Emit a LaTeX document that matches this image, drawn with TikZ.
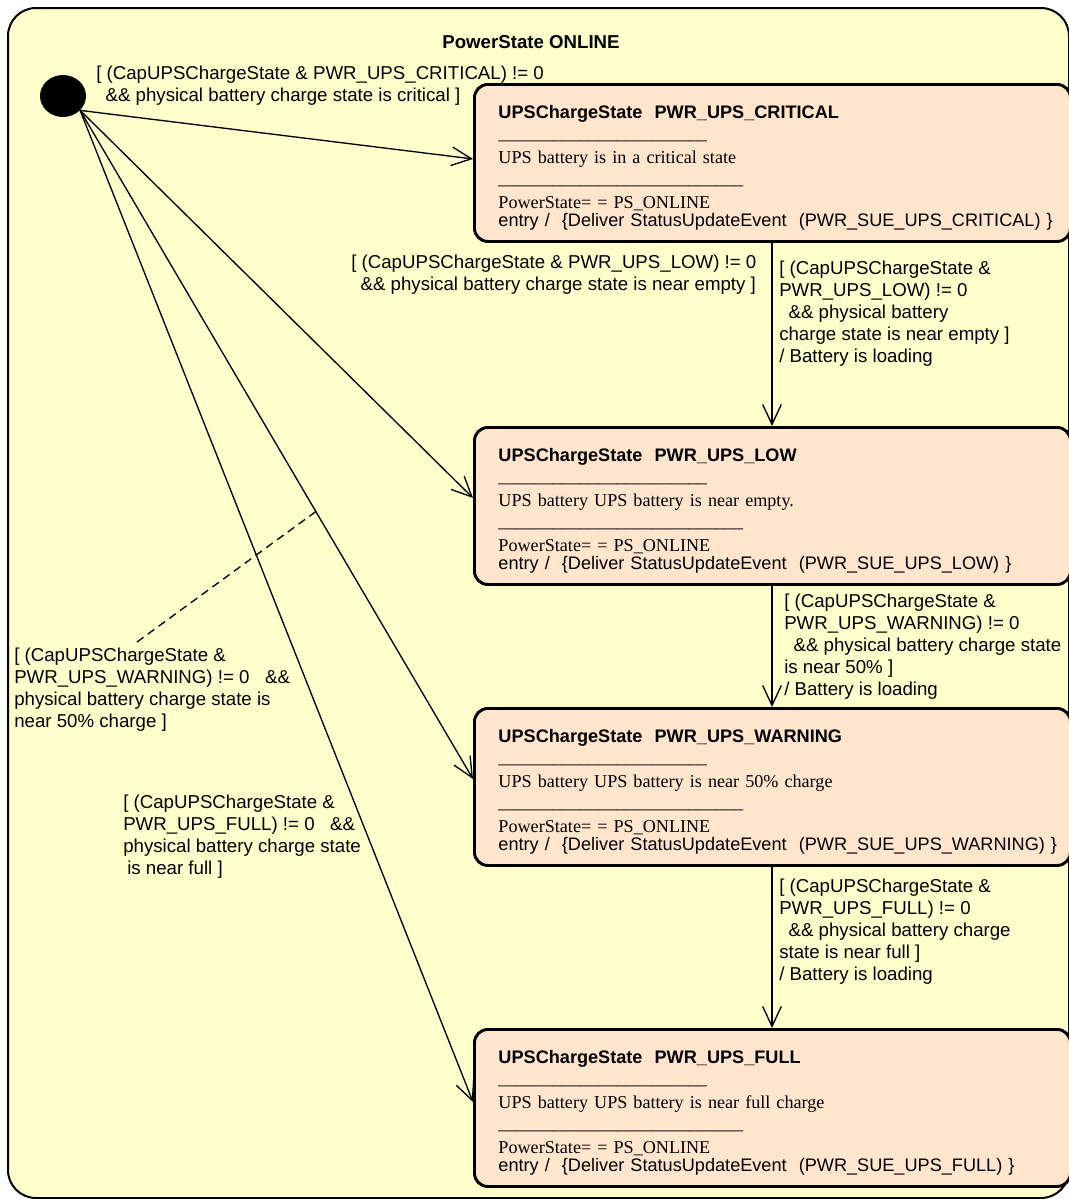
\documentclass[tikz,border=0pt]{standalone}
\usepackage{fontspec}
\setmainfont{Liberation Serif}
\setsansfont{Liberation Sans}
\usetikzlibrary{calc,arrows.meta,shapes.geometric}
\definecolor{onlinefill}{RGB}{255,255,204}
\definecolor{statefill}{RGB}{255,229,204}
\newcommand{\guardfont}{\sffamily\fontsize{14}{16.5}\selectfont}
\newcommand{\statefont}{\sffamily\fontsize{13.6}{16.5}\selectfont}
\tikzstyle{upsstate} = [rectangle, rounded corners=10pt, draw=black, line width=2.2pt, fill=statefill, anchor=north west, text width=411pt, minimum height=117.75pt, inner xsep=18pt, inner ysep=0pt, align=left, font=\statefont]
\tikzstyle{guard} = [anchor=north west, inner sep=0pt, align=left, font=\guardfont]
\tikzstyle{arrow} = [line width=1pt, -{Straight Barb[length=15pt,width=14pt]}]
% body of one charge state: #1 = level, #2 = description
\newcommand{\upsbody}[2]{%
  \rule{0pt}{17.5pt}\textbf{UPSChargeState\ \ PWR\_UPS\_#1}\\[-0.75pt]
  {\rmfamily \_\_\_\_\_\_\_\_\_\_\_\_\_\_\_\_\_\_\_\_\_\_\_}\\[1.5pt]
  {\rmfamily #2}\\[-0.75pt]
  {\rmfamily \_\_\_\_\_\_\_\_\_\_\_\_\_\_\_\_\_\_\_\_\_\_\_\_\_\_\_}\\[1.5pt]
  {\rmfamily PowerState= = PS\_ONLINE}\\[-3pt]
  \mbox{entry / \ \{Deliver StatusUpdateEvent \ (PWR\_SUE\_UPS\_#1) \}}}

\begin{document}
\begin{tikzpicture}[x=0.75pt,y=-0.75pt]
	\useasboundingbox (0,0) rectangle (1068,1199);

	%% outer state PowerState ONLINE
	\draw[line width=1.5pt, rounded corners=21pt, fill=onlinefill] (8,8) rectangle (1069,1198);
	\node[font=\sffamily\bfseries\fontsize{14}{16.5}\selectfont] (online) at (531,42) {PowerState ONLINE};

	%% initial pseudo state
	\node[ellipse, fill=black, minimum width=34.5pt, minimum height=31.5pt, inner sep=0pt] (init) at (63,96) {};

	%% the four charge states
	\node[upsstate] (crit) at (473,83) {\upsbody{CRITICAL}{UPS battery is in a critical state}};
	\node[upsstate] (low) at (473,426) {\upsbody{LOW}{UPS battery UPS battery is near empty.}};
	\node[upsstate] (warn) at (473,707) {\upsbody{WARNING}{UPS battery UPS battery is near 50\% charge}};
	\node[upsstate] (full) at (473,1028) {\upsbody{FULL}{UPS battery UPS battery is near full charge}};

	%% ends of the transitions from the initial state
	\coordinate (critin) at ($(crit.west)+(0,-4)$);
	\coordinate (lowin) at ($(low.west)+(0,-8)$);
	\coordinate (warnin) at ($(warn.west)+(0,-8)$);
	\coordinate (fullin) at ($(full.west)+(0,-6)$);
	\coordinate (spine) at (772,0); % x of the vertical transitions

	\draw[arrow] (init.-40) -- (critin);
	\draw[arrow] (init.-40) -- (lowin);
	\draw[arrow] (init.-40) -- (warnin);
	\draw[arrow] (init.-40) -- (fullin);

	\draw[arrow] (crit.south -| spine) -- (low.north -| spine);
	\draw[arrow] (low.south -| spine) -- (warn.north -| spine);
	\draw[arrow] (warn.south -| spine) -- (full.north -| spine);

	%% guards
	\node[guard] (critg) at (96,66) {[ (CapUPSChargeState \& PWR\_UPS\_CRITICAL) != 0\\\hspace*{7pt}\&\& physical battery charge state is critical ]};
	\node[guard] (lowg) at (351,255) {[ (CapUPSChargeState \& PWR\_UPS\_LOW) != 0\\\hspace*{7pt}\&\& physical battery charge state is near empty ]};
	\node[guard] (warng) at (14,648) {[ (CapUPSChargeState \&\\PWR\_UPS\_WARNING) != 0 \ \ \&\&\\physical battery charge state is\\near 50\% charge ]};
	\node[guard] (fullg) at (123,795) {[ (CapUPSChargeState \&\\PWR\_UPS\_FULL) != 0 \ \ \&\&\\physical battery charge state\\\hspace*{3pt}is near full ]};

	\node[guard] (lowload) at (779,261) {[ (CapUPSChargeState \&\\PWR\_UPS\_LOW) != 0\\\hspace*{7pt}\&\& physical battery\\charge state is near empty ]\\/ Battery is loading};
	\node[guard] (warnload) at (784,594) {[ (CapUPSChargeState \&\\PWR\_UPS\_WARNING) != 0\\\hspace*{7pt}\&\& physical battery charge state\\is near 50\% ]\\/ Battery is loading};
	\node[guard] (fullload) at (779,879) {[ (CapUPSChargeState \&\\PWR\_UPS\_FULL) != 0\\\hspace*{7pt}\&\& physical battery charge\\state is near full ]\\/ Battery is loading};

	%% the warning guard belongs to the third transition
	\coordinate (wtouch) at ($(init.-40)!.6!(warnin)$);
	\draw[dashed, line width=1pt, dash pattern=on 6pt off 4pt] ($(warng.north west)+(123,-6)$) -- (wtouch);
\end{tikzpicture}
\end{document}
